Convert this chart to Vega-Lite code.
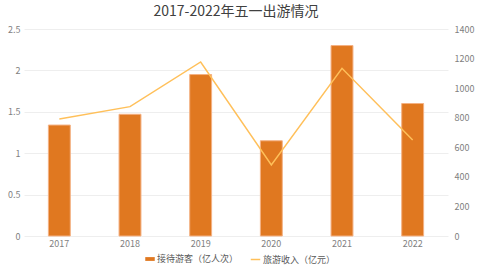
{
  "$schema": "https://vega.github.io/schema/vega-lite/v6.json",
  "width": 424,
  "height": 207,
  "autosize": {"type": "none"},
  "padding": {"left": 24, "top": 29, "right": 29, "bottom": 32},
  "background": "white",
  "title": {
    "text": "2017-2022年五一出游情况",
    "fontSize": 14,
    "font": "Noto Sans CJK SC",
    "fontWeight": "normal",
    "color": "#404040",
    "anchor": "middle",
    "offset": 6
  },
  "config": {
    "view": {"stroke": null},
    "font": "Noto Sans CJK SC",
    "axis": {
      "labelFont": "Noto Sans CJK SC",
      "labelFontSize": 9,
      "labelColor": "#7f7f7f",
      "domain": false,
      "ticks": false,
      "title": null,
      "gridColor": "#eeeeee",
      "gridWidth": 1
    },
    "legend": {
      "padding": 0,
      "labelFont": "Noto Sans CJK SC",
      "labelFontSize": 9,
      "labelColor": "#595959",
      "labelOffset": 2,
      "title": null
    }
  },
  "data": {
    "values": [
      {"year": "2017", "visitors": 1.34, "revenue": 791},
      {"year": "2018", "visitors": 1.47, "revenue": 875},
      {"year": "2019", "visitors": 1.95, "revenue": 1177},
      {"year": "2020", "visitors": 1.15, "revenue": 480},
      {"year": "2021", "visitors": 2.30, "revenue": 1134},
      {"year": "2022", "visitors": 1.60, "revenue": 649}
    ]
  },
  "encoding": {
    "x": {
      "field": "year",
      "type": "ordinal",
      "scale": {"paddingInner": 0.69, "paddingOuter": 0.345},
      "axis": {"labelAngle": 0, "labelPadding": 3, "grid": false}
    }
  },
  "layer": [
    {
      "mark": {"type": "bar", "stroke": "#F4B183", "strokeWidth": 1},
      "encoding": {
        "y": {
          "field": "visitors",
          "type": "quantitative",
          "scale": {"domain": [0, 2.5]},
          "axis": {"values": [0, 0.5, 1, 1.5, 2, 2.5], "format": "~g", "grid": true, "labelPadding": 4, "orient": "left"}
        },
        "fill": {
          "datum": "接待游客（亿人次）",
          "type": "nominal",
          "scale": {"range": ["#E07820"]},
          "legend": {
            "orient": "none",
            "legendX": 121,
            "legendY": 225,
            "symbolType": "M-1,-0.4H1V0.4H-1Z",
            "symbolSize": 90,
            "symbolStrokeWidth": 0,
            "symbolFillColor": "#E07820"
          }
        }
      }
    },
    {
      "mark": {"type": "line", "strokeWidth": 1.5},
      "encoding": {
        "y": {
          "field": "revenue",
          "type": "quantitative",
          "scale": {"domain": [0, 1400]},
          "axis": {"values": [0, 200, 400, 600, 800, 1000, 1200, 1400], "format": "d", "grid": false, "orient": "right", "labelPadding": 6, "labelAlign": "left"}
        },
        "stroke": {
          "datum": "旅游收入（亿元）",
          "type": "nominal",
          "scale": {"range": ["#FFC05A"]},
          "legend": {
            "orient": "none",
            "legendX": 226,
            "legendY": 225,
            "symbolType": "stroke",
            "symbolSize": 90,
            "symbolStrokeWidth": 1.5
          }
        }
      }
    }
  ],
  "resolve": {"scale": {"y": "independent"}}
}
